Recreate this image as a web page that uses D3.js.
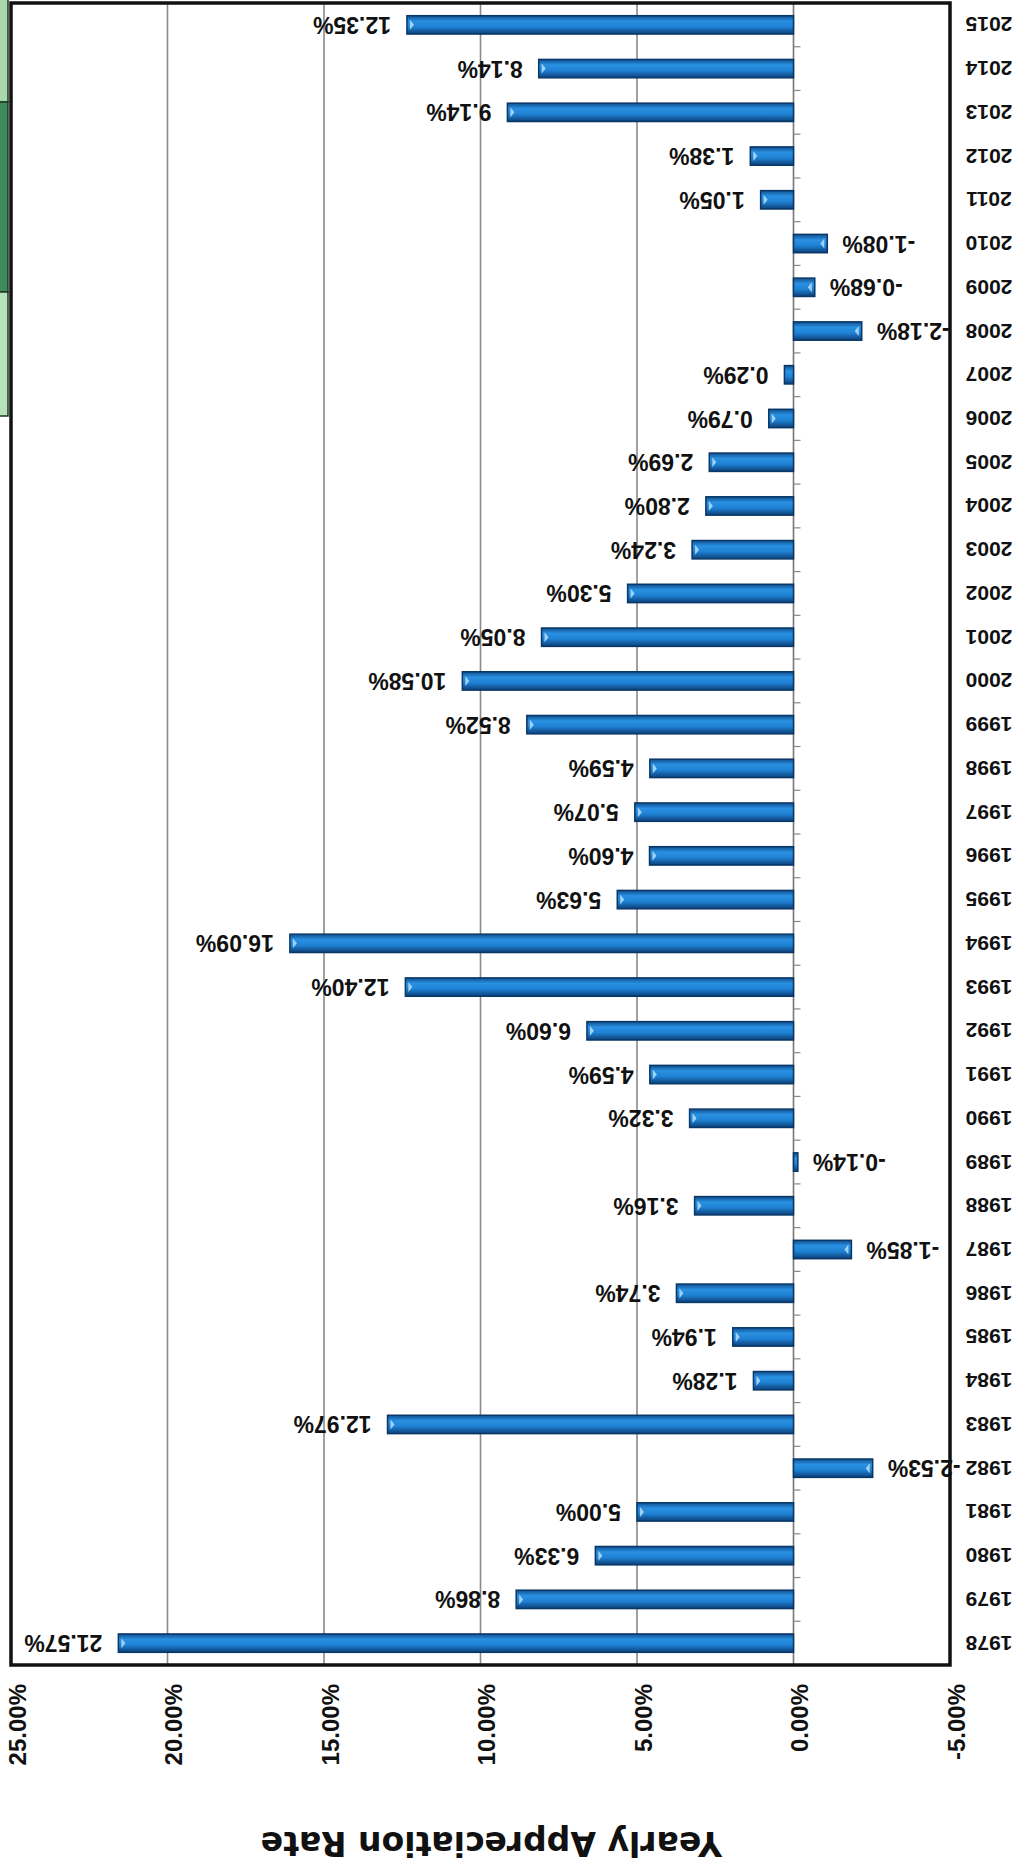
<!DOCTYPE html>
<html>
<head>
<meta charset="utf-8">
<script src="https://cdn.jsdelivr.net/npm/d3@7"></script>
<style>
  body { margin: 0; background: #fff; }
  text { font-family: "Liberation Sans", Arial, sans-serif; font-weight: bold; fill: #111; }
</style>
</head>
<body>
<div id="chart"></div>
<script>
// the scanned chart is upside down, so everything is drawn in page coords
var years = ["1978","1979","1980","1981","1982","1983","1984","1985","1986","1987",
             "1988","1989","1990","1991","1992","1993","1994","1995","1996","1997",
             "1998","1999","2000","2001","2002","2003","2004","2005","2006","2007",
             "2008","2009","2010","2011","2012","2013","2014","2015"];
var rates = [21.57, 8.86, 6.33, 5.00, -2.53, 12.97, 1.28, 1.94, 3.74, -1.85,
             3.16, -0.14, 3.32, 4.59, 6.60, 12.40, 16.09, 5.63, 4.60, 5.07,
             4.59, 8.52, 10.58, 8.05, 5.30, 3.24, 2.80, 2.69, 0.79, 0.29,
             -2.18, -0.68, -1.08, 1.05, 1.38, 9.14, 8.14, 12.35];
var xTicks = [25, 20, 15, 10, 5, 0, -5];
var axisTitle = "Yearly Appreciation Rate";

var svgWidth = 1029;
var svgHeight = 1862;

var plot = { left: 11, right: 950, top: 3, bottom: 1665 };

var svg = d3.select("#chart")
    .append("svg")
    .attr("width", svgWidth)
    .attr("height", svgHeight);

var data = years.map(function(y, i) { return { year: y, rate: rates[i] }; });

var xScale = d3.scaleLinear()
    .domain([-5, 25])
    .range([plot.right, plot.left]);

var yScale = d3.scaleBand()
    .domain(years)
    .range([plot.bottom, plot.top])
    .paddingInner(0.58)
    .paddingOuter(0.29);

var step = yScale.step();

// cylinder look for bars
var defs = svg.append("defs");
var grad = defs.append("linearGradient")
    .attr("id", "barGrad")
    .attr("x1", 0).attr("y1", 0).attr("x2", 0).attr("y2", 1);
grad.append("stop").attr("offset", "0%").attr("stop-color", "#0f4f8f");
grad.append("stop").attr("offset", "30%").attr("stop-color", "#2a90e2");
grad.append("stop").attr("offset", "60%").attr("stop-color", "#1f82d4");
grad.append("stop").attr("offset", "100%").attr("stop-color", "#0c3f78");

// green tabs at the edge of the scan
var tabs = svg.append("g");
tabs.append("rect").attr("x", -2).attr("y", -2).attr("width", 10).attr("height", 104)
    .attr("fill", "#a9d8ad").attr("stroke", "#1a3a22").attr("stroke-width", 1.5);
tabs.append("rect").attr("x", -2).attr("y", 102).attr("width", 10).attr("height", 190)
    .attr("fill", "#3f8a5a").attr("stroke", "#1a3a22").attr("stroke-width", 1.5);
tabs.append("rect").attr("x", -2).attr("y", 292).attr("width", 10).attr("height", 124)
    .attr("fill", "#b8e2bb").attr("stroke", "#1a3a22").attr("stroke-width", 1.5);

// gridlines
svg.append("g")
    .selectAll("line")
    .data(xTicks.filter(function(t) { return t > 0 && t < 25; }))
    .enter()
    .append("line")
    .attr("x1", function(d) { return xScale(d); })
    .attr("x2", function(d) { return xScale(d); })
    .attr("y1", plot.top)
    .attr("y2", plot.bottom)
    .attr("stroke", "#8a8a8a")
    .attr("stroke-width", 1.6);

// category axis at zero with ticks between years
var zeroX = xScale(0);
svg.append("line")
    .attr("x1", zeroX).attr("x2", zeroX)
    .attr("y1", plot.top).attr("y2", plot.bottom)
    .attr("stroke", "#777").attr("stroke-width", 1.6);
svg.append("g")
    .selectAll("line")
    .data(years)
    .enter()
    .append("line")
    .attr("x1", zeroX)
    .attr("x2", zeroX + 7)
    .attr("y1", function(d) { return yScale(d) - (step - yScale.bandwidth()) / 2; })
    .attr("y2", function(d) { return yScale(d) - (step - yScale.bandwidth()) / 2; })
    .attr("stroke", "#888")
    .attr("stroke-width", 1.2);

// bars
var bars = svg.append("g");
bars.selectAll("rect")
    .data(data)
    .enter()
    .append("rect")
    .attr("x", function(d) { return Math.min(xScale(d.rate), zeroX); })
    .attr("y", function(d) { return yScale(d.year); })
    .attr("width", function(d) { return Math.max(2, Math.abs(xScale(d.rate) - zeroX)); })
    .attr("height", yScale.bandwidth())
    .attr("fill", "url(#barGrad)")
    .attr("stroke", "#0a3766")
    .attr("stroke-width", 1.5);

// light end caps
bars.selectAll("path")
    .data(data.filter(function(d) { return Math.abs(d.rate) > 0.3; }))
    .enter()
    .append("path")
    .attr("d", function(d) {
        var bx = xScale(d.rate);
        var s = d.rate > 0 ? 1 : -1;
        var cy = yScale(d.year) + yScale.bandwidth() / 2;
        return "M" + (bx + s * 3) + "," + (cy - 5) +
               " L" + (bx + s * 7) + "," + cy +
               " L" + (bx + s * 3) + "," + (cy + 5) + " Z";
    })
    .attr("fill", "#9fd2f5");

// value labels (upside down like the scan)
svg.append("g")
    .selectAll("text")
    .data(data)
    .enter()
    .append("text")
    .attr("transform", function(d) {
        var bx = xScale(d.rate);
        var lx = d.rate >= 0 ? bx - 16 : bx + 15;
        return "translate(" + lx + "," + (yScale(d.year) + yScale.bandwidth() / 2) + ") rotate(180)";
    })
    .attr("text-anchor", function(d) { return d.rate >= 0 ? "start" : "end"; })
    .attr("dominant-baseline", "central")
    .style("font-size", "23px")
    .text(function(d) { return d.rate.toFixed(2) + "%"; });

// year labels
svg.append("g")
    .selectAll("text")
    .data(years)
    .enter()
    .append("text")
    .attr("transform", function(d) {
        return "translate(989," + (yScale(d) + yScale.bandwidth() / 2) + ") rotate(180)";
    })
    .attr("text-anchor", "middle")
    .attr("dominant-baseline", "central")
    .style("font-size", "21px")
    .text(function(d) { return d; });

// value axis labels
svg.append("g")
    .selectAll("text")
    .data(xTicks)
    .enter()
    .append("text")
    .attr("transform", function(d) {
        return "translate(" + (xScale(d) + 6) + ",1684) rotate(-90)";
    })
    .attr("text-anchor", "end")
    .attr("dominant-baseline", "central")
    .style("font-size", "24px")
    .text(function(d) { return d.toFixed(2) + "%"; });

// axis title
svg.append("text")
    .attr("transform", "translate(722,1832) rotate(180)")
    .attr("text-anchor", "start")
    .style("font-family", "'DejaVu Sans', sans-serif")
    .style("font-size", "33px")
    .text(axisTitle);

// plot frame
svg.append("rect")
    .attr("x", plot.left)
    .attr("y", plot.top)
    .attr("width", plot.right - plot.left)
    .attr("height", plot.bottom - plot.top)
    .attr("fill", "none")
    .attr("stroke", "#111")
    .attr("stroke-width", 3.5);
</script>
</body>
</html>
